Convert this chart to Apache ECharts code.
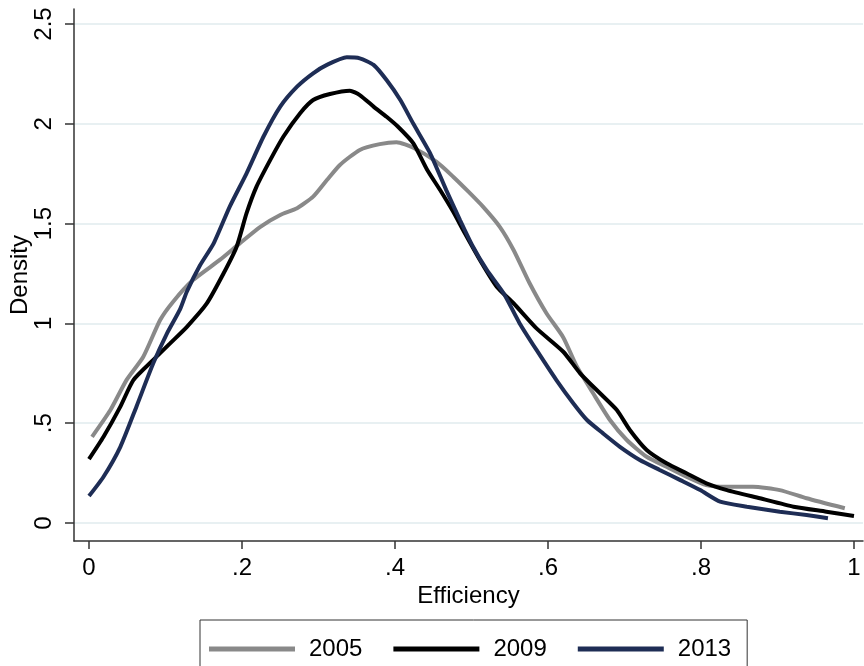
<!DOCTYPE html>
<html>
<head>
<meta charset="utf-8">
<script src="https://cdn.jsdelivr.net/npm/echarts@6/dist/echarts.min.js"></script>
<style>
html,body{margin:0;padding:0;background:#fff;}
#chart{width:864px;height:666px;}
</style>
</head>
<body>
<div id="chart"></div>
<script>
// ---- data ----
var seriesNames = ['2005', '2009', '2013'];

var eff2005 = [0.004,0.028,0.049,0.071,0.093,0.110,0.136,0.171,0.197,0.224,0.250,0.272,0.293,0.311,0.328,0.354,0.380,0.402,0.424,0.454,0.476,0.496,0.515,0.537,0.555,0.576,0.598,0.620,0.637,0.659,0.681,0.703,0.729,0.755,0.781,0.807,0.834,0.868,0.903,0.938,0.988];
var dens2005 = [0.432,0.566,0.716,0.833,1.017,1.109,1.217,1.318,1.401,1.484,1.543,1.577,1.635,1.718,1.794,1.869,1.898,1.908,1.880,1.810,1.735,1.660,1.585,1.484,1.368,1.201,1.051,0.930,0.790,0.650,0.516,0.416,0.332,0.282,0.232,0.190,0.182,0.182,0.165,0.124,0.074];

var eff2009 = [0.000,0.019,0.041,0.058,0.084,0.106,0.128,0.154,0.176,0.193,0.206,0.219,0.237,0.254,0.276,0.293,0.315,0.341,0.354,0.372,0.389,0.404,0.424,0.442,0.459,0.476,0.489,0.511,0.533,0.555,0.585,0.620,0.642,0.668,0.690,0.707,0.729,0.755,0.781,0.807,0.834,0.877,0.921,0.964,1.000];
var dens2009 = [0.320,0.432,0.583,0.716,0.817,0.900,0.983,1.100,1.251,1.384,1.552,1.685,1.819,1.935,2.053,2.119,2.149,2.166,2.144,2.086,2.035,1.985,1.902,1.770,1.668,1.560,1.468,1.318,1.184,1.101,0.975,0.858,0.750,0.650,0.566,0.466,0.366,0.299,0.249,0.199,0.165,0.124,0.082,0.057,0.035];

var eff2013 = [0.000,0.019,0.041,0.062,0.084,0.102,0.119,0.128,0.145,0.163,0.184,0.206,0.228,0.250,0.272,0.293,0.311,0.337,0.354,0.372,0.389,0.407,0.424,0.446,0.467,0.485,0.502,0.520,0.542,0.563,0.585,0.611,0.633,0.651,0.672,0.694,0.720,0.746,0.773,0.799,0.825,0.860,0.903,0.938,0.966];
var dens2013 = [0.135,0.232,0.382,0.583,0.800,0.950,1.070,1.160,1.290,1.401,1.585,1.752,1.935,2.086,2.186,2.253,2.295,2.333,2.328,2.295,2.219,2.119,2.000,1.852,1.668,1.518,1.384,1.268,1.151,1.000,0.867,0.716,0.600,0.516,0.449,0.382,0.316,0.266,0.215,0.165,0.107,0.082,0.057,0.040,0.024];

var xTickValues = [0, 0.2, 0.4, 0.6, 0.8, 1];
var xTickLabels = ['0', '.2', '.4', '.6', '.8', '1'];
var yTickValues = [0, 0.5, 1, 1.5, 2, 2.5];
var yTickLabels = ['0', '.5', '1', '1.5', '2', '2.5'];

// ---- build ----
function zip(xs, ys) { return xs.map(function (x, i) { return [x, ys[i]]; }); }
function labelFor(values, labels) {
  return function (v) {
    for (var i = 0; i < values.length; i++) { if (Math.abs(values[i] - v) < 1e-9) return labels[i]; }
    return '';
  };
}
var FONT = "'Liberation Sans', Arial, sans-serif";
var FS = 24;
var colors = ['#898989', '#000000', '#1e2d55'];

var chart = echarts.init(document.getElementById('chart'), null, { renderer: 'canvas' });
chart.setOption({
  animation: false,
  backgroundColor: '#ffffff',
  color: colors,
  textStyle: { fontFamily: FONT, color: '#000' },
  grid: { left: 74, right: 1, top: 9, bottom: 125, containLabel: false, outerBoundsMode: 'none' },
  xAxis: {
    type: 'value',
    min: -0.0196, max: 1.0118,
    name: 'Efficiency', nameLocation: 'middle', nameGap: 43, nameMoveOverlap: false,
    nameTextStyle: { fontSize: FS, color: '#000', fontFamily: FONT },
    axisLine: { show: true, onZero: false, lineStyle: { color: '#333', width: 1.5 } },
    axisTick: { show: true, customValues: xTickValues, length: 8, lineStyle: { color: '#333', width: 1.5 } },
    axisLabel: { customValues: xTickValues, formatter: labelFor(xTickValues, xTickLabels), fontSize: FS, color: '#000', margin: 15, fontFamily: FONT },
    splitLine: { show: false }
  },
  yAxis: {
    type: 'value',
    min: -0.09, max: 2.575,
    name: 'Density', nameLocation: 'middle', nameGap: 42, nameRotate: 90, nameMoveOverlap: false,
    nameTextStyle: { fontSize: FS, color: '#000', fontFamily: FONT },
    axisLine: { show: true, onZero: false, lineStyle: { color: '#333', width: 1.5 } },
    axisTick: { show: true, customValues: yTickValues, length: 9, lineStyle: { color: '#333', width: 1.5 } },
    axisLabel: { customValues: yTickValues, formatter: labelFor(yTickValues, yTickLabels), rotate: 90, fontSize: FS, color: '#000', margin: 18, fontFamily: FONT },
    splitLine: { show: true, lineStyle: { color: '#e8f0f2', width: 2 } }
  },
  legend: {
    data: seriesNames,
    left: 200, top: 620,
    orient: 'horizontal',
    icon: 'rect', itemWidth: 86, itemHeight: 5, itemGap: 31,
    padding: [17, 16, 30, 9],
    borderColor: '#333', borderWidth: 1,
    textStyle: { fontSize: FS, color: '#000', fontFamily: FONT, padding: [0, 0, 0, 9] }
  },
  series: [
    { name: seriesNames[0], type: 'line', data: zip(eff2005, dens2005), showSymbol: false, smooth: 0.2, lineStyle: { width: 4, color: colors[0] }, itemStyle: { color: colors[0] } },
    { name: seriesNames[1], type: 'line', data: zip(eff2009, dens2009), showSymbol: false, smooth: 0.2, lineStyle: { width: 4, color: colors[1] }, itemStyle: { color: colors[1] } },
    { name: seriesNames[2], type: 'line', data: zip(eff2013, dens2013), showSymbol: false, smooth: 0.2, lineStyle: { width: 4, color: colors[2] }, itemStyle: { color: colors[2] } }
  ]
});
</script>
</body>
</html>
